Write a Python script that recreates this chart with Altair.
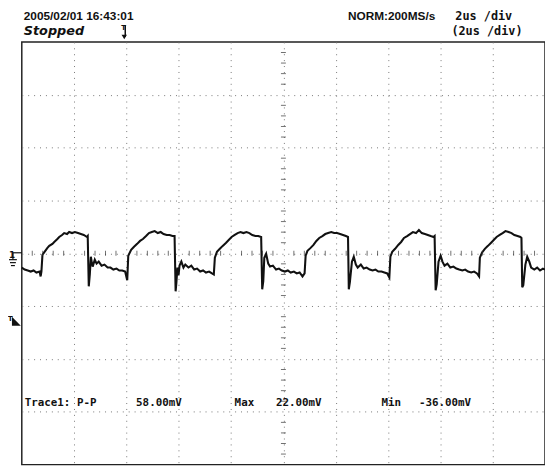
import altair as alt
import pandas as pd

# Oscilloscope trace: time in microseconds (2 us/div, 10 div), voltage in mV (50 mV/div)
time_us = [
    0.00, 0.11, 0.23, 0.34, 0.45, 0.56, 0.68, 0.72, 0.75, 0.79,
    0.87, 0.98, 1.05, 1.17, 1.24, 1.36, 1.43, 1.54, 1.62, 1.73, 1.81, 1.92, 2.03, 2.15, 2.26, 2.37, 2.49, 2.52,
    2.56, 2.60, 2.64, 2.67, 2.71, 2.79, 2.86, 2.94, 3.05, 3.16, 3.28, 3.39, 3.50, 3.62, 3.73, 3.84, 3.95, 4.03, 4.07,
    4.18, 4.29, 4.41, 4.52, 4.63, 4.75, 4.86, 4.97, 5.08, 5.20, 5.31, 5.42, 5.54, 5.65, 5.76, 5.84,
    5.88, 5.91, 5.95, 5.99, 6.03, 6.10, 6.18, 6.25, 6.37, 6.48, 6.59, 6.70, 6.82, 6.93, 7.04, 7.16, 7.27, 7.34, 7.38,
    7.46, 7.57, 7.68, 7.80, 7.91, 8.02, 8.14, 8.25, 8.36, 8.47, 8.59, 8.70, 8.81, 8.93, 9.04, 9.15,
    9.19, 9.23, 9.27, 9.34, 9.42, 9.49, 9.60, 9.72, 9.83, 9.94, 10.06, 10.17, 10.28, 10.40, 10.51, 10.62, 10.73, 10.81, 10.85,
    10.92, 11.04, 11.15, 11.26, 11.37, 11.49, 11.60, 11.71, 11.83, 11.94, 12.05, 12.17, 12.28, 12.39, 12.47,
    12.50, 12.54, 12.62, 12.69, 12.77, 12.84, 12.96, 13.07, 13.18, 13.30, 13.41, 13.52, 13.63, 13.75, 13.86, 13.97, 14.05, 14.09,
    14.16, 14.27, 14.39, 14.50, 14.61, 14.73, 14.84, 14.95, 15.07, 15.18, 15.29, 15.41, 15.52, 15.63, 15.74, 15.78,
    15.82, 15.86, 15.93, 16.01, 16.08, 16.16, 16.27, 16.38, 16.50, 16.61, 16.72, 16.84, 16.95, 17.06, 17.18, 17.29, 17.40, 17.48, 17.51,
    17.59, 17.70, 17.82, 17.93, 18.04, 18.15, 18.27, 18.38, 18.49, 18.61, 18.72, 18.83, 18.95, 19.06, 19.10,
    19.13, 19.17, 19.25, 19.32, 19.40, 19.47, 19.59, 19.70, 19.81, 19.92, 20.00,
]
volt_mv = [
    -13.5, -15.4, -16.3, -17.3, -16.3, -18.2, -17.3, -21.9, -17.3, -1.4,
    1.4, 5.1, 7.0, 8.9, 10.7, 13.5, 15.4, 17.3, 19.1, 18.2, 20.1, 19.1, 20.1, 19.1, 18.2, 17.3, 15.4, 16.3,
    -31.3, -20.1, -3.3, -7.9, -12.6, -6.1, -9.8, -7.9, -11.7, -10.7, -13.5, -13.5, -15.4, -14.5, -16.3, -16.3, -17.3, -25.6, -2.3,
    3.3, 6.1, 8.9, 11.7, 13.5, 16.3, 19.1, 20.1, 21.0, 19.1, 20.1, 18.2, 17.3, 17.3, 16.3, 16.3,
    -36.0, -27.5, -13.5, -21.0, -11.7, -7.9, -13.5, -10.7, -13.5, -11.7, -15.4, -14.5, -17.3, -16.3, -18.2, -17.3, -19.1, -20.1, -4.2,
    1.4, 4.2, 7.0, 9.8, 12.6, 15.4, 17.3, 19.1, 20.1, 19.1, 20.1, 19.1, 17.3, 16.3, 16.3, 15.4,
    -34.1, -26.6, -4.2, -0.5, -9.8, -12.6, -11.7, -15.4, -14.5, -16.3, -17.3, -16.3, -18.2, -17.3, -19.1, -18.2, -21.9, -19.1, -2.3,
    2.3, 5.1, 7.9, 11.7, 14.5, 16.3, 18.2, 19.1, 20.1, 19.1, 19.1, 18.2, 17.3, 16.3, 15.4,
    -34.1, -27.5, -7.9, -3.3, -10.7, -13.5, -10.7, -14.5, -13.5, -15.4, -16.3, -15.4, -17.3, -17.3, -18.2, -19.1, -22.9, -3.3,
    1.4, 4.2, 7.9, 10.7, 14.5, 16.3, 18.2, 20.1, 19.1, 22.0, 19.1, 18.2, 17.3, 16.3, 15.4, 16.3,
    -35.0, -29.4, -7.9, -2.3, -7.9, -11.7, -9.8, -13.5, -12.6, -14.5, -15.4, -16.3, -15.4, -17.3, -18.2, -17.3, -19.1, -21.9, -4.2,
    0.5, 4.2, 7.0, 9.8, 12.6, 15.4, 17.3, 19.1, 21.0, 20.1, 19.1, 17.3, 16.3, 15.4, 14.5,
    -32.2, -30.3, -10.7, -3.3, -7.9, -13.5, -15.4, -13.5, -16.3, -14.5, -15.4,
]

# graticule divisions
x_divs = [2, 4, 6, 8, 10, 12, 14, 16, 18]
y_divs = [-150, -100, -50, 0, 50, 100, 150]
x_minor = [0.4, 0.8, 1.2, 1.6, 2.4, 2.8, 3.2, 3.6, 4.4, 4.8, 5.2, 5.6, 6.4, 6.8, 7.2, 7.6, 8.4, 8.8, 9.2, 9.6,
           10.4, 10.8, 11.2, 11.6, 12.4, 12.8, 13.2, 13.6, 14.4, 14.8, 15.2, 15.6, 16.4, 16.8, 17.2, 17.6,
           18.4, 18.8, 19.2, 19.6]
y_minor = [-190, -180, -170, -160, -140, -130, -120, -110, -90, -80, -70, -60, -40, -30, -20, -10,
           10, 20, 30, 40, 60, 70, 80, 90, 110, 120, 130, 140, 160, 170, 180, 190]

header_left = "2005/02/01  16:43:01"
header_state = "Stopped"
header_rate = "NORM:200MS/s"
header_tdiv = "2us /div"
header_tdiv2 = "(2us /div)"
meas_texts = ["Trace1: P-P", "58.00mV", "Max", "22.00mV", "Min", "-36.00mV"]

W, H = 531, 429
xs = alt.Scale(domain=[0, 20], nice=False, zero=False)
ys = alt.Scale(domain=[-200, 200], nice=False, zero=False)

trace_df = pd.DataFrame({"t": time_us, "v": volt_mv})

grid_axis_x = alt.Axis(values=x_divs, grid=True, gridDash=[1, 5], gridColor="#777", gridWidth=1,
                       labels=False, ticks=False, domain=False, title=None)
grid_axis_y = alt.Axis(values=y_divs, grid=True, gridDash=[1, 5], gridColor="#777", gridWidth=1,
                       labels=False, ticks=False, domain=False, title=None)

base = alt.Chart(trace_df)

trace = base.mark_line(color="#111", strokeWidth=2.1, interpolate="linear").encode(
    x=alt.X("t:Q", scale=xs, axis=grid_axis_x),
    y=alt.Y("v:Q", scale=ys, axis=grid_axis_y),
)

# centre cross minor ticks
xm = alt.Chart(pd.DataFrame({"t": x_minor, "v": [0] * len(x_minor)})).mark_tick(
    orient="vertical", size=5, thickness=1, color="#333").encode(
    x=alt.X("t:Q", scale=xs), y=alt.Y("v:Q", scale=ys))
ym = alt.Chart(pd.DataFrame({"t": [10] * len(y_minor), "v": y_minor})).mark_tick(
    orient="horizontal", size=5, thickness=1, color="#333").encode(
    x=alt.X("t:Q", scale=xs), y=alt.Y("v:Q", scale=ys))

one = alt.Chart(pd.DataFrame({"k": [0]}))

def txt(s, x, y, size=11, font="Liberation Sans", weight="bold", style="normal", align="left"):
    return one.mark_text(text=s, font=font, fontSize=size, fontWeight=weight, fontStyle=style,
                         align=align, baseline="alphabetic", color="#111").encode(
        x=alt.value(x), y=alt.value(y))

mono = "DejaVu Sans Mono"
headers = [
    txt(header_left, 2, -22, size=12),
    txt(header_state, 2, -7, size=13, font="DejaVu Sans", style="italic"),
    txt(header_rate, 331, -22, size=12),
    txt(header_tdiv, 440, -22, size=12, font=mono),
    txt(header_tdiv2, 436, -7, size=12, font=mono),
]

meas_x = [3, 116, 216, 258, 365, 403]
meas = [txt(s, x, 370, size=11, font=mono) for s, x in zip(meas_texts, meas_x)]

# trigger position marker (top)
trig_top = [
    txt("T", 101, -12, size=7, font="DejaVu Sans"),
    one.mark_rule(color="#111", strokeWidth=1.5).encode(x=alt.value(105), y=alt.value(-17), y2=alt.value(-5)),
    one.mark_point(shape="triangle-down", filled=True, size=30, color="#111", opacity=1).encode(
        x=alt.value(104), y=alt.value(-5)),
]

# ground marker (left)
gnd = [
    txt("1", -13, 219, size=9, font="DejaVu Sans"),
    one.mark_rule(color="#111", strokeWidth=1.2).encode(x=alt.value(-9), x2=alt.value(0), y=alt.value(214)),
    one.mark_rule(color="#111", strokeWidth=1.2).encode(x=alt.value(-9), y=alt.value(214), y2=alt.value(221)),
    one.mark_rule(color="#111", strokeWidth=1.2).encode(x=alt.value(-13), x2=alt.value(-5), y=alt.value(221)),
    one.mark_rule(color="#111", strokeWidth=1.2).encode(x=alt.value(-12), x2=alt.value(-6), y=alt.value(224)),
    one.mark_rule(color="#111", strokeWidth=1.2).encode(x=alt.value(-11), x2=alt.value(-7), y=alt.value(227)),
]

# trigger level marker (left)
trig_lvl = [
    txt("T", -14, 283, size=7, font="DejaVu Sans"),
    one.mark_point(shape="M -1 -1 L 1 1 L -1 1 Z", filled=True, size=81, color="#111", opacity=1).encode(
        x=alt.value(-5.5), y=alt.value(283.5)),
]

chart = alt.layer(trace, xm, ym, *headers, *meas, *trig_top, *gnd, *trig_lvl).properties(
    width=W, height=H,
    padding={"left": 14, "top": 31, "right": 0, "bottom": 0},
    autosize=alt.AutoSizeParams(type="none"),
    background="white",
).configure_view(stroke="#222", strokeWidth=1.5)

chart.save("out.html", embed_options={"renderer": "svg", "actions": False})
